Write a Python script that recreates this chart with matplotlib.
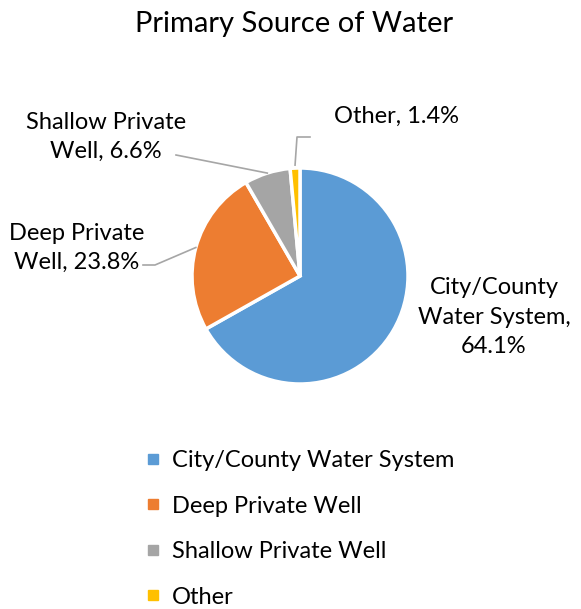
import numpy as np
import matplotlib
matplotlib.use("Agg")
import matplotlib.pyplot as plt
from matplotlib.lines import Line2D

# water source shares (percent)
sources = ["City/County Water System", "Deep Private Well", "Shallow Private Well", "Other"]
shares = [64.1, 23.8, 6.6, 1.4]
colors = ["#5B9BD5", "#ED7D31", "#A5A5A5", "#FFC000"]
pie_labels = ["City/County\nWater System,\n64.1%", "Deep Private\nWell, 23.8%",
              "Shallow Private\nWell, 6.6%", "Other, 1.4%"]

plt.rcParams['font.family'] = ['Lato', 'DejaVu Sans']

W, H = 581, 609
fig = plt.figure(figsize=(W / 100, H / 100), dpi=100)

def fx(px):
    return px / W

def fy(py):
    return 1 - py / H

# pie axes: centre (300, 276), radius 108 px
r = 108
ax = fig.add_axes([fx(300 - r), fy(276 + r), 2 * r / W, 2 * r / H])
wedges, _ = ax.pie(shares, colors=colors, startangle=90, counterclock=False,
                   radius=1.0, wedgeprops=dict(edgecolor="white", linewidth=2.5))
ax.set_xlim(-1, 1)
ax.set_ylim(-1, 1)
ax.set_aspect("auto")

fig.text(fx(294), fy(24), "Primary Source of Water", ha="center", va="center", fontsize=21)

# label positions in pixels (text centre)
label_pos = [(494, 317), (77, 248), (106, 137), (397, 116)]
line_col = "#A6A6A6"

for i, (w, lab) in enumerate(zip(wedges, pie_labels)):
    lx, ly = label_pos[i]
    fig.text(fx(lx), fy(ly), lab, ha="center", va="center", fontsize=17,
             linespacing=1.5)
    ang = np.deg2rad((w.theta1 + w.theta2) / 2)
    ex, ey = np.cos(ang), np.sin(ang)
    # edge point in figure pixels
    px = 300 + r * ex
    py = 276 - r * ey
    if i == 1:
        xs, ys = [143, 155, px], [265, 265, py]
    elif i == 2:
        xs, ys = [176, px], [155, py]
    elif i == 3:
        xs, ys = [310, 297, px], [137, 137, py - 3]
    else:
        continue
    fig.add_artist(Line2D([fx(x) for x in xs], [fy(y) for y in ys],
                          transform=fig.transFigure, color=line_col, lw=1.2))

handles = [Line2D([], [], marker="s", linestyle="none", markersize=7.5,
                  markerfacecolor=c, markeredgecolor=c) for c in colors]
fig.legend(handles, sources, loc="upper left", bbox_to_anchor=(fx(147), fy(450)),
           frameon=False, fontsize=17, handlelength=0.5, handletextpad=0.55,
           labelspacing=1.04, borderaxespad=0, borderpad=0)

fig.savefig("out.png", dpi=100)
